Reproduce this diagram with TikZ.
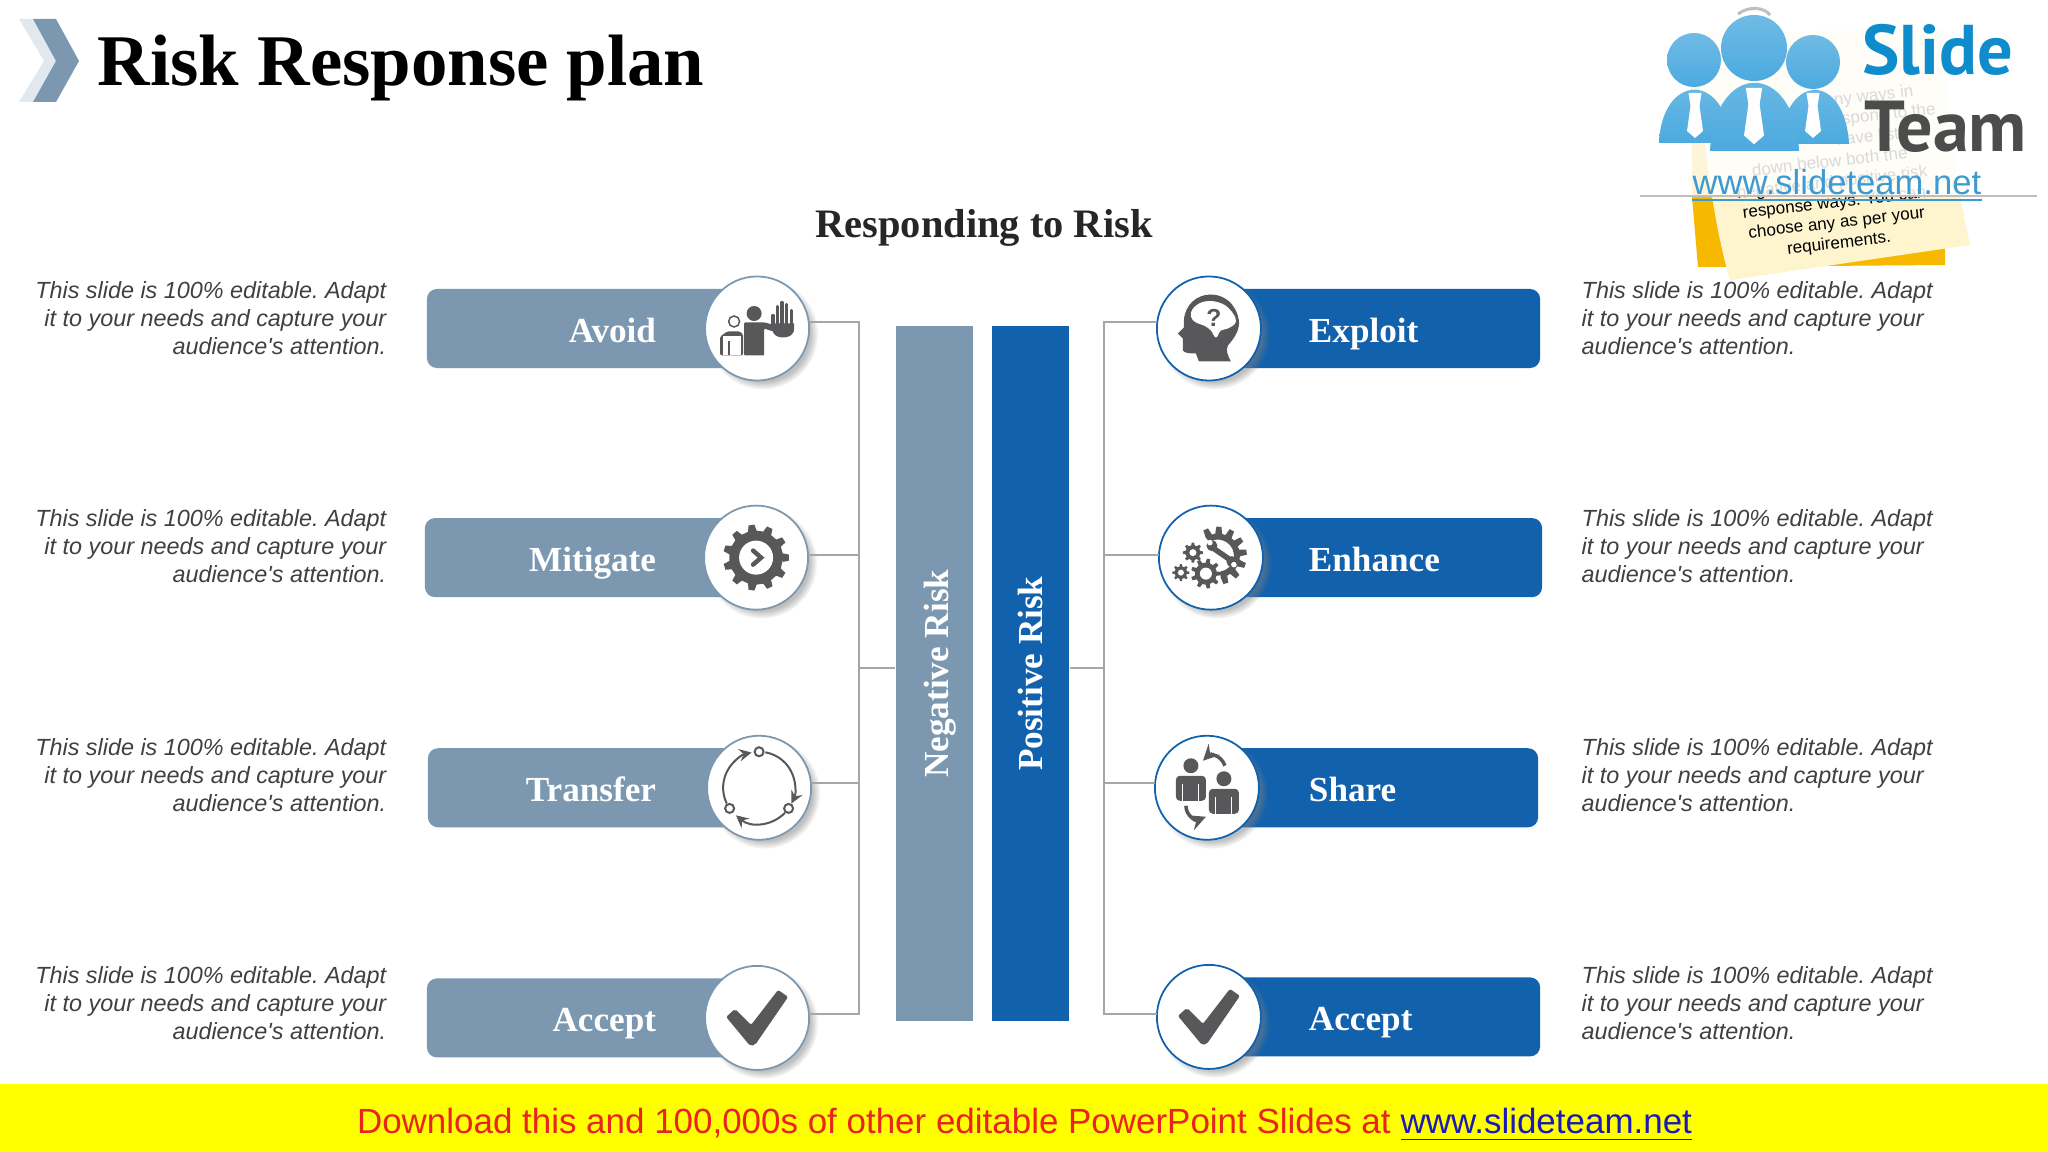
\documentclass[tikz,border=0pt]{standalone}
\usepackage{fontspec}
\setmainfont{Liberation Serif}
\newfontfamily\arialfont{Liberation Sans}
\newfontfamily\logofont{PT Sans}
\frenchspacing
\usetikzlibrary{arrows}
\usetikzlibrary{positioning}
\usetikzlibrary{shadows}
\definecolor{negblue}{HTML}{7B98B0}
\definecolor{posblue}{HTML}{1161AC}
\definecolor{icongray}{HTML}{58585A}
\definecolor{linkgray}{HTML}{A6A6A6}
\definecolor{logoblue}{HTML}{4CAADF}
\definecolor{logotext}{HTML}{0E8CCB}
\definecolor{urlblue}{HTML}{3C9BD3}
\definecolor{notecream}{HTML}{FEF4CE}
\definecolor{noteorange}{HTML}{F6B900}
\definecolor{bandyellow}{HTML}{FFFF00}
\definecolor{bandred}{HTML}{E8241C}
\definecolor{bandblue}{HTML}{1A1AB8}
\definecolor{chevronpale}{HTML}{E1E8F0}
\newcommand{\labelfont}{\fontsize{10}{12}\selectfont\bfseries}
\newcommand{\notefont}{\arialfont\itshape\fontsize{6.65}{7.97}\selectfont}
\tikzstyle{link} = [draw=linkgray, line width=0.4pt]
\tikzstyle{riskbar} = [rectangle, rounded corners=1mm, inner xsep=8.4mm, inner ysep=0pt, outer sep=0pt, minimum height=7.9mm, text height=3.2mm, text depth=0.5mm, text=white, font=\labelfont]
\tikzstyle{negbar} = [riskbar, fill=negblue, align=right]
\tikzstyle{posbar} = [riskbar, fill=posblue, align=left]
\tikzstyle{riskicon} = [circle, fill=white, line width=0.5pt, minimum size=10.4mm, inner sep=0pt, outer sep=0pt, circular drop shadow={shadow xshift=0.5mm, shadow yshift=-0.5mm, shadow scale=1.07, opacity=0.5}]
\tikzstyle{negicon} = [riskicon, draw=negblue]
\tikzstyle{posicon} = [riskicon, draw=posblue]
\tikzstyle{column} = [rectangle, rotate=90, minimum width=69.5mm, minimum height=7.7mm, inner sep=0pt, text=white, text height=3.2mm, text depth=0.5mm, font=\labelfont]
\tikzstyle{leftnote} = [inner sep=0pt, align=right, font=\notefont, text=black!75, anchor=east]
\tikzstyle{rightnote} = [inner sep=0pt, align=left, font=\notefont, text=black!75, anchor=west]
\newcommand{\gearshape}[5]{\fill[icongray, shift={(#1,#2)}] (0:#4) foreach \t in {1,...,#5} { -- ({(\t-0.28)*360/#5}:#4) -- ({(\t-0.16)*360/#5}:#3) -- ({(\t+0.16)*360/#5}:#3) -- ({(\t+0.28)*360/#5}:#4)} -- cycle;}
\newcommand{\iconcheck}{\fill[icongray, rounded corners=0.2mm] (-31,-1) -- (-22,-9) -- (-6,7) -- (21,-28) -- (31,-21) -- (-2,27) -- (-7,28) -- cycle;}
\newcommand{\iconavoid}{%
  \fill[icongray, rounded corners=0.15mm] (-37,27) -- (-37,8) -- (-30,3) -- (-17,3) -- (-14,6) -- (-14,27) -- cycle;
  \fill[white] (-34.5,8) rectangle (-16,27);
  \fill[icongray] (-29,13) rectangle (-27,27);
  \draw[icongray, fill=white, line width=0.15mm] (-23,-7) circle[radius=5.5];
  \fill[icongray] (-3,-15) circle[radius=7.5];
  \fill[icongray, rounded corners=0.1mm] (-13,27) -- (-13,-6) -- (8,-6) -- (15,-4) -- (16,3) -- (7,0) -- (7,27) -- cycle;
  \fill[icongray] (15,-5) -- (37,-5) -- (37,0) .. controls (37,7) and (31,9) .. (26,9) .. controls (20,9) and (15,6) .. (15,0) -- cycle;
  \foreach \fx/\fy in {15.8/-13, 20.5/-22, 25/-26, 29.5/-24, 34.5/-18} {
    \draw[icongray, line width=0.33mm, line cap=round] (\fx,\fy) -- (\fx,-3);
  }
}
\newcommand{\iconmitigate}{%
  \gearshape{0}{0}{33}{27}{11}
  \fill[white] (0,0) circle[radius=17];
  \draw[icongray, line width=0.45mm, line cap=round] (-3,-7) -- (5,0) -- (-3,7);
}
\newcommand{\icontransfer}{%
  \draw[icongray, line width=0.2mm, ->, >=stealth] (-80:36) arc[start angle=-80, end angle=26, radius=36];
  \draw[icongray, line width=0.2mm, ->, >=stealth] (44:36) arc[start angle=44, end angle=130, radius=36];
  \draw[icongray, line width=0.2mm, ->, >=stealth] (154:36) arc[start angle=154, end angle=258, radius=36];
  \foreach \na in {-90, 35, 145} {
    \draw[icongray, fill=white, line width=0.2mm] (\na:36) circle[radius=4.5];
  }
}
\newcommand{\iconexploit}{%
  \fill[icongray] (-10,33) -- (22,33) .. controls (18,25) and (17,22) .. (19,17) .. controls (27,8) and (31,0) .. (30,-8) .. controls (27,-26) and (14,-34) .. (2,-34) .. controls (-12,-34) and (-24,-24) .. (-25,-8) -- (-25,-1) -- (-31,5) -- (-26,10) -- (-26,22) .. controls (-24,25) and (-18,25) .. (-13,25) -- cycle;
  \fill[white] plot[smooth cycle, tension=0.7] coordinates {(-18,-12) (-15,-21) (-4,-27) (10,-26) (21,-19) (27,-7) (19,0) (12,2) (7,9) (2,2) (-5,-3) (-13,-6)};
  \node[inner sep=0pt, text=icongray] (brainmark) at (5,-11) {\arialfont\bfseries\fontsize{7}{8}\selectfont ?};
}
\newcommand{\iconenhance}{%
  \fill[icongray, shift={(7,-2)}] (-122:16) foreach \t in {-115,-88,...,75} { -- ({\t-9}:22) -- ({\t-5}:29) -- ({\t+5}:29) -- ({\t+9}:22)} -- (80:16) arc[start angle=80, end angle=-122, radius=16] -- cycle;
  \draw[icongray, line width=0.55mm] (3,-9) -- (19,2);
  \fill[icongray] (1,-12) circle[radius=5.5];
  \fill[white] (-1,-15) circle[radius=2.8];
  \fill[icongray] (21,4) circle[radius=5.5];
  \fill[white] (23,7) circle[radius=2.8];
  \gearshape{-18}{-5}{10}{7.5}{8}
  \fill[white] (-18,-5) circle[radius=3.5];
  \gearshape{-5}{16}{15}{11}{9}
  \fill[white] (-5,16) circle[radius=6];
  \gearshape{-30}{15}{8.5}{6.3}{8}
  \fill[white] (-30,15) circle[radius=3];
}
\newcommand{\personshape}[2]{%
  \fill[icongray] (#1,#2) circle[radius=7.5];
  \fill[icongray, rounded corners=0.4mm] ({#1-15},{#2+35}) -- ({#1-15},{#2+10}) -- ({#1+15},{#2+10}) -- ({#1+15},{#2+35}) -- cycle;
  \draw[white, line width=0.1mm] ({#1-8},{#2+18}) -- ({#1-8},{#2+35}) ({#1+8},{#2+18}) -- ({#1+8},{#2+35});
}
\newcommand{\iconshare}{%
  \personshape{-16}{-22}
  \personshape{17}{-9}
  \draw[icongray, line width=0.35mm, ->, >=stealth] (18,-22) .. controls (14,-34) and (2,-33) .. (-4,-27);
  \draw[icongray, line width=0.35mm, ->, >=stealth] (-21,18) .. controls (-21,28) and (-11,33) .. (-1,29);
}
\newcommand{\logotie}[3]{\fill[white, shift={(#1,#2)}, scale=#3] (-6.5,0) -- (6.5,0) -- (4.5,13) -- (8,38) -- (0,45) -- (-8,38) -- (-4.5,13) -- cycle;}
\begin{document}
\begin{tikzpicture}[x=0.01cm, y=-0.01cm]
  \useasboundingbox (0,0) rectangle (2048,1152);
  \fill[white] (0,0) rectangle (2048,1152);
  \fill[chevronpale] (19,19) -- (33,19) -- (56,61) -- (33,102) -- (19,102) -- (44,61) -- cycle;
  \fill[negblue] (33,19) -- (56,19) -- (79,61) -- (56,102) -- (33,102) -- (56,61) -- cycle;
  \node[inner sep=0pt, anchor=base west, font=\bfseries\fontsize{20.7}{24}\selectfont] (title) at (97,86) {Risk Response plan};
  \node[inner sep=0pt, text=black!85, font=\bfseries\fontsize{11.5}{14}\selectfont] (heading) at (984,228) {Responding to Risk};
  \fill[noteorange] (1691,60) -- (1692,197) -- (1698,267) -- (1945,265) -- (1945,200) -- cycle;
  \fill[notecream] (1695,33) .. controls (1700,120) and (1712,220) .. (1730,280) -- (1970,245) .. controls (1955,180) and (1945,100) .. (1945,30) -- cycle;
  \node[rotate=6.5, inner sep=0pt, align=center, font=\arialfont\fontsize{4.85}{5.8}\selectfont] (stickynote) at (1831,173) {\phantom{There are ma}ny ways in\\ \phantom{which you can re}spond to the\\ \phantom{Risks. We }have list\\ down below both the\\ negative and positive risk\\ response ways. You can\\ choose any as per your\\ requirements.};
  \fill[white, opacity=0.85] (1637,0) rectangle (2037,196);
  \draw[black!25, line width=0.3pt] (1640,196) -- (2037,196);
  \draw[black!25, line width=0.3mm] (1738,14) .. controls (1750,5) and (1765,8) .. (1770,15);
  \shade[top color=logoblue!80!white, bottom color=logoblue] (1694,60) circle[radius=27];
  \shade[top color=logoblue!80!white, bottom color=logoblue] (1813,62) circle[radius=27];
  \shade[top color=logoblue!80!white, bottom color=logoblue] (1659,143) .. controls (1662,72) and (1727,72) .. (1730,143) -- cycle;
  \shade[top color=logoblue!80!white, bottom color=logoblue] (1780,144) .. controls (1785,72) and (1845,72) .. (1849,144) -- cycle;
  \logotie{1695}{93}{1}
  \logotie{1813}{93}{1}
  \shade[top color=logoblue!80!white, bottom color=logoblue] (1754,48) circle[radius=33];
  \shade[top color=logoblue!80!white, bottom color=logoblue] (1710,151) .. controls (1714,60) and (1795,60) .. (1799,151) -- cycle;
  \logotie{1754}{88}{1.25}
  \node[inner sep=0pt, anchor=base west, text=logotext, font=\logofont\bfseries\fontsize{20}{24}\selectfont] (logoslide) at (1862,75) {Slide};
  \node[inner sep=0pt, anchor=base west, text=black!70, font=\logofont\bfseries\fontsize{20.5}{24}\selectfont] (logoteam) at (1864,152) {Team};
  \node[inner sep=0pt, anchor=base west, text=urlblue, font=\arialfont\fontsize{9.84}{12}\selectfont] (logourl) at (1692,195) {www.slideteam.net};
  \draw[urlblue, line width=0.7pt] (logourl.base west) ++(0,5) -- ++(290,0);
  \node[negbar, text width=14.5mm] (avoid) at (583.5,328.5) {Avoid};
  \node[negbar, text width=14.7mm, below=15mm of avoid.south east, anchor=north east] (mitigate) {Mitigate};
  \node[negbar, text width=14.4mm, below=15.1mm of mitigate.south east, anchor=north east] (transfer) {Transfer};
  \node[negbar, text width=14.5mm, below=15.1mm of transfer.south east, anchor=north east] (acceptneg) {Accept};
  \node[posbar, text width=14.7mm] (exploit) at (1382.5,328.5) {Exploit};
  \node[posbar, text width=14.9mm, below=15mm of exploit.south west, anchor=north west] (enhance) {Enhance};
  \node[posbar, text width=14.5mm, below=15.1mm of enhance.south west, anchor=north west] (share) {Share};
  \node[posbar, text width=14.7mm, below=15mm of share.south west, anchor=north west] (acceptpos) {Accept};
  \node[negicon, xshift=1.7mm] (avoidicon) at (avoid.east) {};
  \node[negicon, xshift=1.6mm] (mitigateicon) at (mitigate.east) {};
  \node[negicon, xshift=1.9mm] (transfericon) at (transfer.east) {};
  \node[negicon, xshift=1.7mm] (acceptnegicon) at (acceptneg.east) {};
  \node[posicon, xshift=-1.6mm] (exploiticon) at (exploit.west) {};
  \node[posicon, xshift=-1.4mm] (enhanceicon) at (enhance.west) {};
  \node[posicon, xshift=-1.8mm] (shareicon) at (share.west) {};
  \node[posicon, xshift=-1.6mm] (acceptposicon) at (acceptpos.west) {};
  \begin{scope}[shift={(avoidicon.center)}] \iconavoid \end{scope}
  \begin{scope}[shift={(mitigateicon.center)}] \iconmitigate \end{scope}
  \begin{scope}[shift={(transfericon.center)}] \icontransfer \end{scope}
  \begin{scope}[shift={(acceptnegicon.center)}] \iconcheck \end{scope}
  \begin{scope}[shift={(exploiticon.center)}] \iconexploit \end{scope}
  \begin{scope}[shift={(enhanceicon.center)}] \iconenhance \end{scope}
  \begin{scope}[shift={(shareicon.center)}] \iconshare \end{scope}
  \begin{scope}[shift={(acceptposicon.center)}] \iconcheck \end{scope}
  \node[column, fill=negblue] (negative) at (934.5,673.75) {Negative Risk};
  \node[column, fill=posblue, text height=3mm, text depth=0.7mm] (positive) at (1030.5,673.75) {Positive Risk};
  \coordinate (negtop) at (859,322);
  \coordinate (negsecond) at (859,555);
  \coordinate (negmid) at (859,668);
  \coordinate (negthird) at (859,783);
  \coordinate (negbottom) at (859,1014);
  \coordinate (postop) at (1104,322);
  \coordinate (possecond) at (1104,555);
  \coordinate (posmid) at (1104,668);
  \coordinate (posthird) at (1104,783);
  \coordinate (posbottom) at (1104,1014);
  \draw[link] (avoidicon.east |- negtop) -- (negtop) -- (negbottom) -- (acceptnegicon.east |- negbottom);
  \draw[link] (mitigateicon.east |- negsecond) -- (negsecond);
  \draw[link] (transfericon.east |- negthird) -- (negthird);
  \draw[link] (negmid) -- (negative.north |- negmid);
  \draw[link] (exploiticon.west |- postop) -- (postop) -- (posbottom) -- (acceptposicon.west |- posbottom);
  \draw[link] (enhanceicon.west |- possecond) -- (possecond);
  \draw[link] (shareicon.west |- posthird) -- (posthird);
  \draw[link] (posmid) -- (positive.south |- posmid);
  \foreach \rowname/\rowy in {avoidnote/318, mitigatenote/546, transfernote/775, acceptnegnote/1003} {
    \node[leftnote] (\rowname) at (387,\rowy) {This slide is 100\% editable. Adapt\\it to your needs and capture your\\audience's attention.};
  }
  \foreach \rowname/\rowy in {exploitnote/318, enhancenote/546, sharenote/775, acceptposnote/1003} {
    \node[rightnote] (\rowname) at (1581,\rowy) {This slide is 100\% editable. Adapt\\it to your needs and capture your\\audience's attention.};
  }
  \fill[bandyellow] (0,1084) rectangle (2048,1152);
  \node[inner sep=0pt, font=\arialfont\fontsize{9.94}{12}\selectfont, text=bandred] (banner) at (1024.5,1125) {Download this and 100,000s of other editable PowerPoint Slides at \textcolor{bandblue}{\underline{www.slideteam.net}}};
\end{tikzpicture}
\end{document}
